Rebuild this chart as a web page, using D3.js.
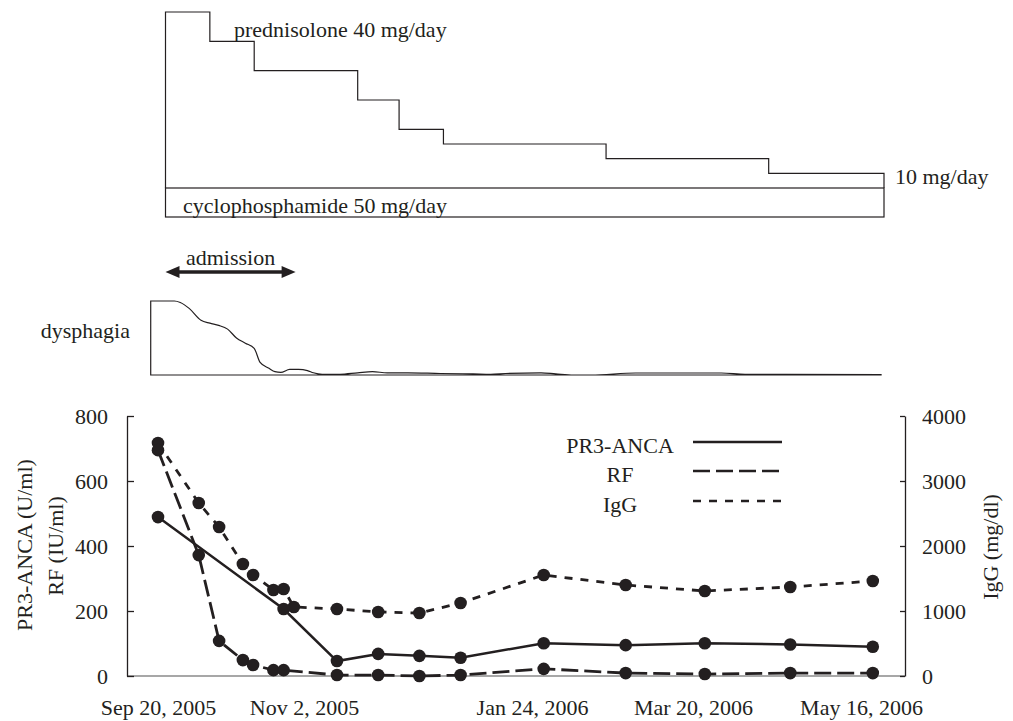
<!DOCTYPE html>
<html><head><meta charset="utf-8">
<script src="https://cdn.jsdelivr.net/npm/d3@7"></script>
<style>
body{margin:0;background:#fff}
svg text{font-family:"Liberation Serif","Times New Roman",serif;font-size:22px;fill:#231f20}
</style></head><body>
<svg id="chart" width="1013" height="721"></svg>
<script>
// ---------- data ----------
// treatment panels (days from start of treatment)
const predDays = [0, 0, 15, 30, 65, 79, 94, 149, 204, 243, 243];
const predDose = [10, 40, 35, 30, 25, 20, 17.5, 15, 12.5, 12.5, 10];
const cycloDays = [0, 243];
const admissionDays = [0, 44];
const dysDays = [-5, 3, 5, 8, 12, 15, 18, 21, 24, 27, 30, 32, 35, 37, 39, 42, 45, 48, 50, 53, 59, 65, 70, 75, 82, 93, 104, 110, 115, 127, 132, 138, 144, 159, 188, 196, 242];
const dysScore = [10, 10, 9.8, 9.0, 7.4, 7.0, 6.7, 6.2, 5.0, 4.3, 3.6, 1.7, 0.9, 0.45, 0.35, 0.75, 0.75, 0.6, 0.3, 0.1, 0.1, 0.3, 0.45, 0.3, 0.3, 0.2, 0.15, 0.1, 0.2, 0.3, 0.15, 0, 0, 0.27, 0.27, 0.1, 0.05];

// laboratory series
const pr3Dates = ["2005-09-20","2005-10-27","2005-11-14","2005-11-29","2005-12-14","2005-12-29","2006-01-28","2006-02-25","2006-03-24","2006-04-22","2006-05-20"];
const pr3Values = [489, 206, 46, 68, 62, 56, 101, 95, 101, 97, 90];
const rfDates = ["2005-09-20","2005-10-02","2005-10-08","2005-10-15","2005-10-18","2005-10-24","2005-10-27","2005-11-14","2005-11-29","2005-12-14","2005-12-29","2006-01-28","2006-02-25","2006-03-24","2006-04-22","2006-05-20"];
const rfValues = [695, 372, 108, 49, 34, 18, 18, 3, 3, 0, 3, 22, 9, 6, 9, 9];
const iggDates = ["2005-09-20","2005-10-02","2005-10-08","2005-10-15","2005-10-18","2005-10-24","2005-10-27","2005-10-30","2005-11-14","2005-11-29","2005-12-14","2005-12-29","2006-01-28","2006-02-25","2006-03-24","2006-04-22","2006-05-20"];
const iggValues = [3585, 2662, 2292, 1723, 1554, 1323, 1338, 1062, 1031, 985, 969, 1123, 1554, 1400, 1308, 1369, 1462];

const xTickDates = ["2005-09-20","2005-11-02","2006-01-24","2006-03-20","2006-05-16"];
const leftTicks = [0, 200, 400, 600, 800];
const rightTicks = [0, 1000, 2000, 3000, 4000];
const legendNames = ["PR3-ANCA", "RF", "IgG"];

// ---------- drawing ----------
const parse = d3.timeParse("%Y-%m-%d");
const svg = d3.select("#chart");
const ink = "#231f20";

// treatment scale
const tx = d3.scaleLinear().domain([0, 243]).range([165.5, 884]);
const yPred = d3.scaleLinear().domain([10, 40]).range([188, 12]);

// cyclophosphamide box
svg.append("rect")
  .attr("x", tx(cycloDays[0])).attr("y", 188)
  .attr("width", tx(cycloDays[1]) - tx(cycloDays[0])).attr("height", 29)
  .attr("fill", "none").attr("stroke", ink).attr("stroke-width", 1.2);
svg.append("text").attr("x", 183).attr("y", 213).text("cyclophosphamide 50 mg/day");

// prednisolone steps
svg.append("path")
  .attr("d", d3.line().curve(d3.curveStepAfter)
    .x((d, i) => tx(predDays[i])).y(d => yPred(d))(predDose))
  .attr("fill", "none").attr("stroke", ink).attr("stroke-width", 1.2);
svg.append("text").attr("x", 234).attr("y", 37).text("prednisolone 40 mg/day");
svg.append("text").attr("x", 895).attr("y", 184).text("10 mg/day");

// admission arrow
const ay = 272, ax0 = tx(admissionDays[0]), ax1 = tx(admissionDays[1]);
svg.append("line").attr("x1", ax0 + 10).attr("x2", ax1 - 10).attr("y1", ay).attr("y2", ay)
  .attr("stroke", ink).attr("stroke-width", 3.5);
svg.append("path").attr("d", `M${ax0},${ay}L${ax0 + 14},${ay - 6}L${ax0 + 14},${ay + 6}Z`).attr("fill", ink);
svg.append("path").attr("d", `M${ax1},${ay}L${ax1 - 14},${ay - 6}L${ax1 - 14},${ay + 6}Z`).attr("fill", ink);
svg.append("text").attr("x", (ax0 + ax1) / 2).attr("y", 265).attr("text-anchor", "middle").text("admission");

// dysphagia
const yDys = d3.scaleLinear().domain([0, 10]).range([375, 301]);
svg.append("path")
  .attr("d", d3.area().curve(d3.curveMonotoneX)
    .x((d, i) => tx(dysDays[i])).y0(yDys(0)).y1(d => yDys(d))(dysScore))
  .attr("fill", "none").attr("stroke", ink).attr("stroke-width", 1.2);
svg.append("text").attr("x", 130).attr("y", 338).attr("text-anchor", "end").text("dysphagia");

// main chart scales
const x = d3.scaleTime().domain(xTickDates.map(parse)).range([158, 304, 532, 693, 861]);
const yL = d3.scaleLinear().domain([0, 800]).range([676, 416]);
const yR = d3.scaleLinear().domain([0, 4000]).range([676, 416]);

// baseline
svg.append("line").attr("x1", 127).attr("x2", 905).attr("y1", 676).attr("y2", 676)
  .attr("stroke", "#8a8a8a").attr("stroke-width", 1.5);

// axes
const gL = svg.append("g").attr("transform", "translate(127,0)")
  .call(d3.axisLeft(yL).tickValues(leftTicks).tickSize(-7).tickSizeOuter(0).tickPadding(19)
    .tickFormat(d3.format("d")));
const gR = svg.append("g").attr("transform", "translate(905,0)")
  .call(d3.axisRight(yR).tickValues(rightTicks).tickSize(-5).tickSizeOuter(0).tickPadding(17)
    .tickFormat(d3.format("d")));
const gB = svg.append("g").attr("transform", "translate(0,676)")
  .call(d3.axisBottom(x).tickValues(xTickDates.map(parse)).tickSize(0).tickPadding(23)
    .tickFormat(d3.timeFormat("%b %-d, %Y")));
gB.select(".domain").remove();
[gL, gR, gB].forEach(g => {
  g.selectAll("text").attr("font-size", null).style("font-size", "22px").attr("fill", ink);
  g.selectAll("line").attr("stroke", ink).attr("stroke-width", 1.3);
  g.selectAll(".domain").attr("stroke", ink).attr("stroke-width", 1.3);
  g.attr("font-family", null).attr("font-size", null);
});

// axis titles
svg.append("text").attr("transform", "translate(24,545) rotate(-90)")
  .attr("text-anchor", "middle").attr("dominant-baseline", "central").text("PR3-ANCA (U/ml)");
svg.append("text").attr("transform", "translate(55,546) rotate(-90)")
  .attr("text-anchor", "middle").attr("dominant-baseline", "central").text("RF (IU/ml)");
svg.append("text").attr("transform", "translate(990,547) rotate(-90)")
  .attr("text-anchor", "middle").attr("dominant-baseline", "central").text("IgG (mg/dl)");

// series
const series = [
  { dates: iggDates, values: iggValues, y: yR, dash: "8,8", w: 2.8 },
  { dates: rfDates, values: rfValues, y: yL, dash: "17,6", w: 2.8 },
  { dates: pr3Dates, values: pr3Values, y: yL, dash: null, w: 2.5 }
];
series.forEach(s => {
  const pts = s.dates.map((d, i) => [x(parse(d)), s.y(s.values[i])]);
  svg.append("path").attr("d", d3.line()(pts))
    .attr("fill", "none").attr("stroke", ink).attr("stroke-width", s.w)
    .attr("stroke-dasharray", s.dash);
});
series.forEach(s => {
  svg.append("g").selectAll("circle").data(s.values).join("circle")
    .attr("cx", (d, i) => x(parse(s.dates[i])))
    .attr("cy", d => s.y(d))
    .attr("r", 6.3).attr("fill", ink);
});

// legend
const legendDash = [null, "17,6", "8,8"];
const legendY = [442, 471, 501];
legendNames.forEach((n, i) => {
  svg.append("text").attr("x", 620).attr("y", legendY[i] + 11).attr("text-anchor", "middle").text(n);
  svg.append("line").attr("x1", 693).attr("x2", 782).attr("y1", legendY[i]).attr("y2", legendY[i])
    .attr("stroke", ink).attr("stroke-width", 2.6).attr("stroke-dasharray", legendDash[i]);
});
</script></body></html>
